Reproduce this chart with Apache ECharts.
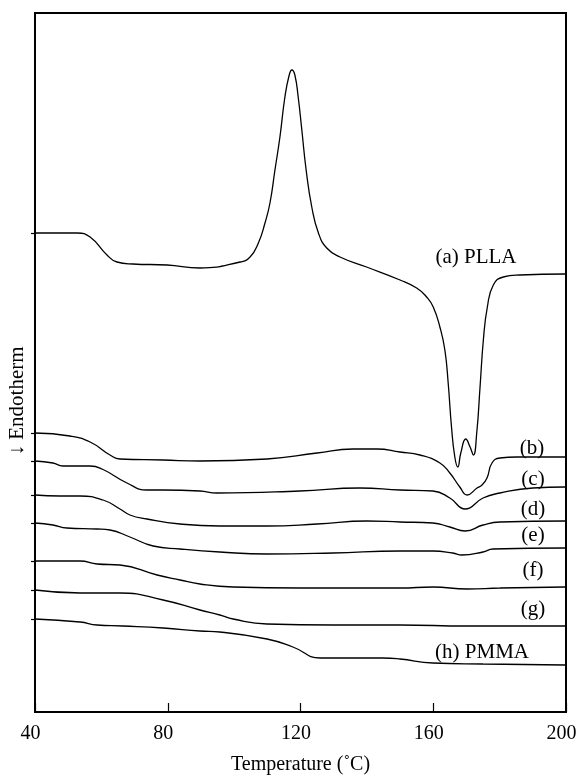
<!DOCTYPE html>
<html>
<head>
<meta charset="utf-8">
<script src="https://cdn.jsdelivr.net/npm/echarts@6/dist/echarts.min.js"></script>
<style>
  html, body { margin: 0; padding: 0; background: #fff; }
  #chart { width: 579px; height: 778px; }
</style>
</head>
<body>
<div id="chart"></div>
<script>
// DSC traces, temperature (°C) and heat flow (arbitrary units, curves offset)
const aTemp = [40, 52.7, 56.6, 61.7, 64.7, 69.5, 79.8, 89.7, 101.8, 104.8, 107.3, 109.3, 110.8, 112.3, 113.8, 115.3, 116.6, 117.4, 118.3, 119.3, 120.4, 121.7, 123.4, 125.4, 127.9, 131.9, 139.9, 150.0, 155.0, 158.0, 160.0, 162.0, 163.5, 164.5, 165.5, 166.5, 167.4, 168.3, 169.8, 171.1, 172.1, 173.1, 174.1, 175.1, 176.3, 178.1, 181.1, 186.1, 199.7]
const aVal = [479, 479, 475, 457, 450, 448, 447, 444, 450, 455, 469, 489, 509, 542, 575, 615, 637, 642, 637, 615, 582, 542, 505, 479, 464, 455, 445, 432, 424, 415, 405, 385, 362, 329, 285, 255, 245, 259, 273, 265, 257, 279, 325, 372, 405, 427, 435, 437, 438]

const bTemp = [40, 50.5, 56.6, 62.6, 65.6, 78.6, 89.7, 109.9, 125.0, 135.8, 143.0, 150.0, 156.0, 162.0, 165.0, 168.0, 170.2, 173.2, 174.7, 176.2, 177.7, 180.1, 185.2, 199.7]
const bVal = [279, 276, 270, 257, 253, 252, 251, 253, 259, 263, 263, 260, 257, 249, 239, 225, 217, 224, 227, 234, 249, 254, 255, 255]

const cTemp = [40, 45.4, 48.4, 56.6, 60.2, 67.7, 73.7, 78.6, 89.7, 94.8, 119.8, 137.9, 150.0, 159.9, 165.0, 169.6, 175.0, 180.1, 190.0, 199.7]
const cVal = [251, 249, 246, 246, 243, 229, 222, 222, 221, 219, 221, 224, 222, 221, 214, 203, 214, 219, 224, 225]

const dTemp = [40, 47.5, 53.6, 60.5, 65.6, 68.6, 73.7, 83.7, 95.7, 109.9, 125.0, 140.0, 150.0, 159.9, 165.0, 169.6, 175.0, 180.1, 199.7]
const dVal = [217, 216, 216, 212, 203, 197, 193, 188, 186, 186, 188, 191, 190, 189, 185, 181, 187, 190, 191]

const eTemp = [40, 45.4, 49.6, 58.7, 62.6, 68.6, 75.6, 83.7, 95.7, 109.9, 129.8, 150.0, 159.9, 165.9, 168.6, 175.0, 178.0, 199.7]
const eVal = [189, 187, 184, 183, 182, 175, 166, 163, 160, 158, 159, 161, 161, 159, 157, 160, 163, 164]

const fTemp = [40, 53.6, 58.7, 65.6, 76.8, 83.7, 89.7, 99.7, 119.8, 150.0, 159.9, 170.2, 180.1, 199.7]
const fVal = [151, 151, 148, 147, 137, 132, 128, 125, 124, 124, 125, 123, 124, 125]

const gTemp = [40, 53.6, 65.6, 78.6, 89.7, 95.7, 99.7, 109.9, 129.8, 150.0, 170.2, 199.7]
const gVal = [122, 119, 119, 112, 102, 97, 93, 88, 87, 87, 86, 86]

const hTemp = [40, 53.6, 58.7, 66.5, 78.6, 89.7, 95.7, 109.9, 117.7, 125.9, 129.8, 144.9, 150.0, 159.9, 175.0, 199.7]
const hVal = [93, 90, 87, 86, 84, 81, 80, 73, 65, 54, 54, 54, 53, 49, 48, 47]

const xTicks = [40, 80, 120, 160, 200]
const curveNames = ['(a) PLLA', '(b)', '(c)', '(d)', '(e)', '(f)', '(g)', '(h) PMMA']

const traces = [
  [aTemp, aVal], [bTemp, bVal], [cTemp, cVal], [dTemp, dVal],
  [eTemp, eVal], [fTemp, fVal], [gTemp, gVal], [hTemp, hVal]
]

const font = '"Liberation Serif", "Times New Roman", serif'
const chart = echarts.init(document.getElementById('chart'))

// label spots for each trace name (pixels)
const labelPos = [[476, 257], [532, 448], [533, 479], [533, 509], [533, 535], [533, 570], [533, 609], [482, 652]]

const option = {
  backgroundColor: '#fff',
  animation: false,
  grid: {
    left: 35,
    right: 13,
    top: 13,
    bottom: 66,
    outerBoundsMode: 'none',
    show: true,
    borderColor: '#000',
    borderWidth: 2
  },
  xAxis: {
    type: 'value',
    min: xTicks[0],
    max: xTicks[xTicks.length - 1],
    interval: 40,
    name: 'Temperature (˚C)',
    nameLocation: 'middle',
    nameGap: 43,
    nameTextStyle: { fontFamily: font, fontSize: 20, color: '#000' },
    axisLine: { lineStyle: { color: '#000', width: 2 } },
    axisTick: { inside: true, length: 9, lineStyle: { color: '#000', width: 1.2 } },
    axisLabel: { fontFamily: font, fontSize: 20, color: '#000', margin: 12, padding: [0, 9, 0, 0] },
    splitLine: { show: false }
  },
  yAxis: {
    type: 'value',
    min: 0,
    max: 699,
    axisLine: { show: true, lineStyle: { color: '#000', width: 2 } },
    axisTick: {
      show: true,
      length: 4,
      customValues: traces.map(t => t[1][0]),
      lineStyle: { color: '#000', width: 1.2 }
    },
    axisLabel: { show: false },
    splitLine: { show: false }
  },
  series: traces.map((t, i) => ({
    name: curveNames[i],
    type: 'line',
    data: t[0].map((x, j) => [x, t[1][j]]),
    showSymbol: false,
    smooth: 0.5,
    lineStyle: { color: '#000', width: 1.3 }
  })),
  graphic: curveNames.map((n, i) => ({
    type: 'text',
    x: labelPos[i][0],
    y: labelPos[i][1],
    style: {
      text: n,
      font: '21px ' + font,
      fill: '#000',
      align: 'center',
      verticalAlign: 'middle'
    }
  })).concat([{
    type: 'text',
    x: 17,
    y: 401,
    rotation: Math.PI / 2,
    style: {
      text: '↓ Endotherm',
      font: '21px ' + font,
      fill: '#000',
      align: 'center',
      verticalAlign: 'middle'
    }
  }])
}

chart.setOption(option)
</script>
</body>
</html>
